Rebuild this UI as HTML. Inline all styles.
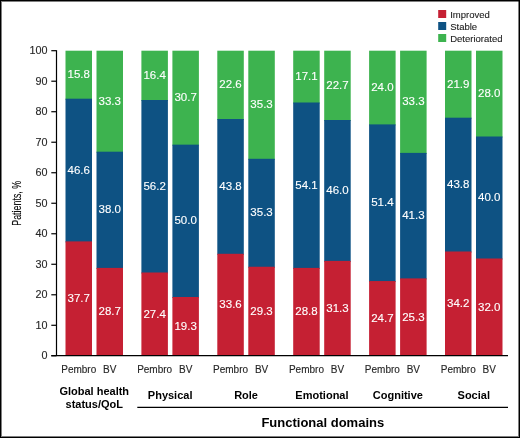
<!DOCTYPE html><html><head><meta charset="utf-8"><style>
html,body{margin:0;padding:0;background:#fff;}
svg{display:block;will-change:transform;}
text{font-family:"Liberation Sans",sans-serif;}
</style></head><body>
<svg width="520" height="438" viewBox="0 0 520 438">
<rect x="0" y="0" width="520" height="438" fill="#fff"/>
<rect x="65.50" y="50.70" width="26.5" height="49.00" fill="#3db34f"/>
<rect x="65.50" y="98.70" width="26.5" height="143.70" fill="#0e5283"/>
<rect x="65.50" y="241.40" width="26.5" height="114.40" fill="#c52033"/>
<text x="78.75" y="302.05" font-size="11.5" fill="#fff" stroke="#fff" stroke-width="0.12" text-anchor="middle">37.7</text>
<text x="78.75" y="173.50" font-size="11.5" fill="#fff" stroke="#fff" stroke-width="0.12" text-anchor="middle">46.6</text>
<text x="78.75" y="78.15" font-size="11.5" fill="#fff" stroke="#fff" stroke-width="0.12" text-anchor="middle">15.8</text>
<text x="78.75" y="372.6" font-size="10" fill="#262626" stroke="#262626" stroke-width="0.12" text-anchor="middle">Pembro</text>
<rect x="96.50" y="50.70" width="26.5" height="102.00" fill="#3db34f"/>
<rect x="96.50" y="151.70" width="26.5" height="117.20" fill="#0e5283"/>
<rect x="96.50" y="267.90" width="26.5" height="87.90" fill="#c52033"/>
<text x="109.75" y="315.30" font-size="11.5" fill="#fff" stroke="#fff" stroke-width="0.12" text-anchor="middle">28.7</text>
<text x="109.75" y="213.25" font-size="11.5" fill="#fff" stroke="#fff" stroke-width="0.12" text-anchor="middle">38.0</text>
<text x="109.75" y="104.65" font-size="11.5" fill="#fff" stroke="#fff" stroke-width="0.12" text-anchor="middle">33.3</text>
<text x="109.75" y="372.6" font-size="10" fill="#262626" stroke="#262626" stroke-width="0.12" text-anchor="middle">BV</text>
<rect x="141.40" y="50.70" width="26.5" height="50.30" fill="#3db34f"/>
<rect x="141.40" y="100.00" width="26.5" height="173.50" fill="#0e5283"/>
<rect x="141.40" y="272.50" width="26.5" height="83.30" fill="#c52033"/>
<text x="154.65" y="317.60" font-size="11.5" fill="#fff" stroke="#fff" stroke-width="0.12" text-anchor="middle">27.4</text>
<text x="154.65" y="189.70" font-size="11.5" fill="#fff" stroke="#fff" stroke-width="0.12" text-anchor="middle">56.2</text>
<text x="154.65" y="78.80" font-size="11.5" fill="#fff" stroke="#fff" stroke-width="0.12" text-anchor="middle">16.4</text>
<text x="154.65" y="372.6" font-size="10" fill="#262626" stroke="#262626" stroke-width="0.12" text-anchor="middle">Pembro</text>
<rect x="172.40" y="50.70" width="26.5" height="94.95" fill="#3db34f"/>
<rect x="172.40" y="144.65" width="26.5" height="153.35" fill="#0e5283"/>
<rect x="172.40" y="297.00" width="26.5" height="58.80" fill="#c52033"/>
<text x="185.65" y="329.85" font-size="11.5" fill="#fff" stroke="#fff" stroke-width="0.12" text-anchor="middle">19.3</text>
<text x="185.65" y="224.27" font-size="11.5" fill="#fff" stroke="#fff" stroke-width="0.12" text-anchor="middle">50.0</text>
<text x="185.65" y="101.13" font-size="11.5" fill="#fff" stroke="#fff" stroke-width="0.12" text-anchor="middle">30.7</text>
<text x="185.65" y="372.6" font-size="10" fill="#262626" stroke="#262626" stroke-width="0.12" text-anchor="middle">BV</text>
<rect x="217.30" y="50.70" width="26.5" height="69.30" fill="#3db34f"/>
<rect x="217.30" y="119.00" width="26.5" height="135.80" fill="#0e5283"/>
<rect x="217.30" y="253.80" width="26.5" height="102.00" fill="#c52033"/>
<text x="230.55" y="308.25" font-size="11.5" fill="#fff" stroke="#fff" stroke-width="0.12" text-anchor="middle">33.6</text>
<text x="230.55" y="189.85" font-size="11.5" fill="#fff" stroke="#fff" stroke-width="0.12" text-anchor="middle">43.8</text>
<text x="230.55" y="88.30" font-size="11.5" fill="#fff" stroke="#fff" stroke-width="0.12" text-anchor="middle">22.6</text>
<text x="230.55" y="372.6" font-size="10" fill="#262626" stroke="#262626" stroke-width="0.12" text-anchor="middle">Pembro</text>
<rect x="248.30" y="50.70" width="26.5" height="109.10" fill="#3db34f"/>
<rect x="248.30" y="158.80" width="26.5" height="108.95" fill="#0e5283"/>
<rect x="248.30" y="266.75" width="26.5" height="89.05" fill="#c52033"/>
<text x="261.55" y="314.72" font-size="11.5" fill="#fff" stroke="#fff" stroke-width="0.12" text-anchor="middle">29.3</text>
<text x="261.55" y="216.22" font-size="11.5" fill="#fff" stroke="#fff" stroke-width="0.12" text-anchor="middle">35.3</text>
<text x="261.55" y="108.20" font-size="11.5" fill="#fff" stroke="#fff" stroke-width="0.12" text-anchor="middle">35.3</text>
<text x="261.55" y="372.6" font-size="10" fill="#262626" stroke="#262626" stroke-width="0.12" text-anchor="middle">BV</text>
<rect x="293.20" y="50.70" width="26.5" height="52.80" fill="#3db34f"/>
<rect x="293.20" y="102.50" width="26.5" height="166.40" fill="#0e5283"/>
<rect x="293.20" y="267.90" width="26.5" height="87.90" fill="#c52033"/>
<text x="306.45" y="315.30" font-size="11.5" fill="#fff" stroke="#fff" stroke-width="0.12" text-anchor="middle">28.8</text>
<text x="306.45" y="188.65" font-size="11.5" fill="#fff" stroke="#fff" stroke-width="0.12" text-anchor="middle">54.1</text>
<text x="306.45" y="80.05" font-size="11.5" fill="#fff" stroke="#fff" stroke-width="0.12" text-anchor="middle">17.1</text>
<text x="306.45" y="372.6" font-size="10" fill="#262626" stroke="#262626" stroke-width="0.12" text-anchor="middle">Pembro</text>
<rect x="324.20" y="50.70" width="26.5" height="70.30" fill="#3db34f"/>
<rect x="324.20" y="120.00" width="26.5" height="141.90" fill="#0e5283"/>
<rect x="324.20" y="260.90" width="26.5" height="94.90" fill="#c52033"/>
<text x="337.45" y="311.80" font-size="11.5" fill="#fff" stroke="#fff" stroke-width="0.12" text-anchor="middle">31.3</text>
<text x="337.45" y="193.90" font-size="11.5" fill="#fff" stroke="#fff" stroke-width="0.12" text-anchor="middle">46.0</text>
<text x="337.45" y="88.80" font-size="11.5" fill="#fff" stroke="#fff" stroke-width="0.12" text-anchor="middle">22.7</text>
<text x="337.45" y="372.6" font-size="10" fill="#262626" stroke="#262626" stroke-width="0.12" text-anchor="middle">BV</text>
<rect x="369.10" y="50.70" width="26.5" height="74.70" fill="#3db34f"/>
<rect x="369.10" y="124.40" width="26.5" height="157.65" fill="#0e5283"/>
<rect x="369.10" y="281.05" width="26.5" height="74.75" fill="#c52033"/>
<text x="382.35" y="321.88" font-size="11.5" fill="#fff" stroke="#fff" stroke-width="0.12" text-anchor="middle">24.7</text>
<text x="382.35" y="206.18" font-size="11.5" fill="#fff" stroke="#fff" stroke-width="0.12" text-anchor="middle">51.4</text>
<text x="382.35" y="91.00" font-size="11.5" fill="#fff" stroke="#fff" stroke-width="0.12" text-anchor="middle">24.0</text>
<text x="382.35" y="372.6" font-size="10" fill="#262626" stroke="#262626" stroke-width="0.12" text-anchor="middle">Pembro</text>
<rect x="400.10" y="50.70" width="26.5" height="103.20" fill="#3db34f"/>
<rect x="400.10" y="152.90" width="26.5" height="126.50" fill="#0e5283"/>
<rect x="400.10" y="278.40" width="26.5" height="77.40" fill="#c52033"/>
<text x="413.35" y="320.55" font-size="11.5" fill="#fff" stroke="#fff" stroke-width="0.12" text-anchor="middle">25.3</text>
<text x="413.35" y="219.10" font-size="11.5" fill="#fff" stroke="#fff" stroke-width="0.12" text-anchor="middle">41.3</text>
<text x="413.35" y="105.25" font-size="11.5" fill="#fff" stroke="#fff" stroke-width="0.12" text-anchor="middle">33.3</text>
<text x="413.35" y="372.6" font-size="10" fill="#262626" stroke="#262626" stroke-width="0.12" text-anchor="middle">BV</text>
<rect x="445.00" y="50.70" width="26.5" height="68.00" fill="#3db34f"/>
<rect x="445.00" y="117.70" width="26.5" height="134.80" fill="#0e5283"/>
<rect x="445.00" y="251.50" width="26.5" height="104.30" fill="#c52033"/>
<text x="458.25" y="307.10" font-size="11.5" fill="#fff" stroke="#fff" stroke-width="0.12" text-anchor="middle">34.2</text>
<text x="458.25" y="188.05" font-size="11.5" fill="#fff" stroke="#fff" stroke-width="0.12" text-anchor="middle">43.8</text>
<text x="458.25" y="87.65" font-size="11.5" fill="#fff" stroke="#fff" stroke-width="0.12" text-anchor="middle">21.9</text>
<text x="458.25" y="372.6" font-size="10" fill="#262626" stroke="#262626" stroke-width="0.12" text-anchor="middle">Pembro</text>
<rect x="476.00" y="50.70" width="26.5" height="86.80" fill="#3db34f"/>
<rect x="476.00" y="136.50" width="26.5" height="123.00" fill="#0e5283"/>
<rect x="476.00" y="258.50" width="26.5" height="97.30" fill="#c52033"/>
<text x="489.25" y="310.60" font-size="11.5" fill="#fff" stroke="#fff" stroke-width="0.12" text-anchor="middle">32.0</text>
<text x="489.25" y="200.95" font-size="11.5" fill="#fff" stroke="#fff" stroke-width="0.12" text-anchor="middle">40.0</text>
<text x="489.25" y="97.05" font-size="11.5" fill="#fff" stroke="#fff" stroke-width="0.12" text-anchor="middle">28.0</text>
<text x="489.25" y="372.6" font-size="10" fill="#262626" stroke="#262626" stroke-width="0.12" text-anchor="middle">BV</text>
<line x1="56.5" y1="50.2" x2="56.5" y2="355.7" stroke="#000" stroke-width="1.2"/>
<line x1="51.3" y1="355.7" x2="508" y2="355.7" stroke="#000" stroke-width="1.2"/>
<line x1="51.3" y1="355.80" x2="56.5" y2="355.80" stroke="#000" stroke-width="1.2"/>
<text x="47.4" y="359.40" font-size="10.8" fill="#262626" stroke="#262626" stroke-width="0.12" text-anchor="end">0</text>
<line x1="51.3" y1="325.29" x2="56.5" y2="325.29" stroke="#000" stroke-width="1.2"/>
<text x="47.4" y="328.89" font-size="10.8" fill="#262626" stroke="#262626" stroke-width="0.12" text-anchor="end">10</text>
<line x1="51.3" y1="294.78" x2="56.5" y2="294.78" stroke="#000" stroke-width="1.2"/>
<text x="47.4" y="298.38" font-size="10.8" fill="#262626" stroke="#262626" stroke-width="0.12" text-anchor="end">20</text>
<line x1="51.3" y1="264.27" x2="56.5" y2="264.27" stroke="#000" stroke-width="1.2"/>
<text x="47.4" y="267.87" font-size="10.8" fill="#262626" stroke="#262626" stroke-width="0.12" text-anchor="end">30</text>
<line x1="51.3" y1="233.76" x2="56.5" y2="233.76" stroke="#000" stroke-width="1.2"/>
<text x="47.4" y="237.36" font-size="10.8" fill="#262626" stroke="#262626" stroke-width="0.12" text-anchor="end">40</text>
<line x1="51.3" y1="203.25" x2="56.5" y2="203.25" stroke="#000" stroke-width="1.2"/>
<text x="47.4" y="206.85" font-size="10.8" fill="#262626" stroke="#262626" stroke-width="0.12" text-anchor="end">50</text>
<line x1="51.3" y1="172.74" x2="56.5" y2="172.74" stroke="#000" stroke-width="1.2"/>
<text x="47.4" y="176.34" font-size="10.8" fill="#262626" stroke="#262626" stroke-width="0.12" text-anchor="end">60</text>
<line x1="51.3" y1="142.23" x2="56.5" y2="142.23" stroke="#000" stroke-width="1.2"/>
<text x="47.4" y="145.83" font-size="10.8" fill="#262626" stroke="#262626" stroke-width="0.12" text-anchor="end">70</text>
<line x1="51.3" y1="111.72" x2="56.5" y2="111.72" stroke="#000" stroke-width="1.2"/>
<text x="47.4" y="115.32" font-size="10.8" fill="#262626" stroke="#262626" stroke-width="0.12" text-anchor="end">80</text>
<line x1="51.3" y1="81.21" x2="56.5" y2="81.21" stroke="#000" stroke-width="1.2"/>
<text x="47.4" y="84.81" font-size="10.8" fill="#262626" stroke="#262626" stroke-width="0.12" text-anchor="end">90</text>
<line x1="51.3" y1="50.70" x2="56.5" y2="50.70" stroke="#000" stroke-width="1.2"/>
<text x="47.4" y="54.30" font-size="10.8" fill="#262626" stroke="#262626" stroke-width="0.12" text-anchor="end">100</text>
<text transform="translate(21.4,203.3) rotate(-90) scale(0.74,1)" font-size="12" fill="#111" stroke="#111" stroke-width="0.15" text-anchor="middle">Patients, %</text>
<text x="94.25" y="394.8" font-size="11" font-weight="bold" fill="#000" text-anchor="middle">Global health</text>
<text x="94.25" y="407.6" font-size="11" font-weight="bold" fill="#000" text-anchor="middle">status/QoL</text>
<text x="170.15" y="398.5" font-size="11" font-weight="bold" fill="#000" text-anchor="middle">Physical</text>
<text x="246.05" y="398.5" font-size="11" font-weight="bold" fill="#000" text-anchor="middle">Role</text>
<text x="321.95" y="398.5" font-size="11" font-weight="bold" fill="#000" text-anchor="middle">Emotional</text>
<text x="397.85" y="398.5" font-size="11" font-weight="bold" fill="#000" text-anchor="middle">Cognitive</text>
<text x="473.75" y="398.5" font-size="11" font-weight="bold" fill="#000" text-anchor="middle">Social</text>
<line x1="137.3" y1="407.4" x2="508" y2="407.4" stroke="#000" stroke-width="1.2"/>
<text x="322.8" y="427.4" font-size="13" font-weight="bold" fill="#000" text-anchor="middle">Functional domains</text>
<rect x="438.2" y="10" width="8" height="8" fill="#c52033"/>
<text x="450.2" y="17.55" font-size="9.5" fill="#1e1e1e" stroke="#1e1e1e" stroke-width="0.12">Improved</text>
<rect x="438.2" y="22" width="8" height="8" fill="#0e5283"/>
<text x="450.2" y="29.55" font-size="9.5" fill="#1e1e1e" stroke="#1e1e1e" stroke-width="0.12">Stable</text>
<rect x="438.2" y="34" width="8" height="8" fill="#3db34f"/>
<text x="450.2" y="41.55" font-size="9.5" fill="#1e1e1e" stroke="#1e1e1e" stroke-width="0.12">Deteriorated</text>
<rect x="0" y="0" width="520" height="1" fill="#000"/>
<rect x="1" y="1" width="518" height="1" fill="#000" fill-opacity="0.5"/>
<rect x="0" y="0" width="1" height="438" fill="#000"/>
<rect x="1" y="2" width="1" height="434" fill="#000" fill-opacity="0.5"/>
<rect x="519" y="0" width="1" height="438" fill="#000"/>
<rect x="518" y="1" width="1" height="436" fill="#000" fill-opacity="0.5"/>
<rect x="0" y="437" width="520" height="1" fill="#000"/>
<rect x="1" y="436" width="517" height="1" fill="#000" fill-opacity="0.5"/>
</svg></body></html>
